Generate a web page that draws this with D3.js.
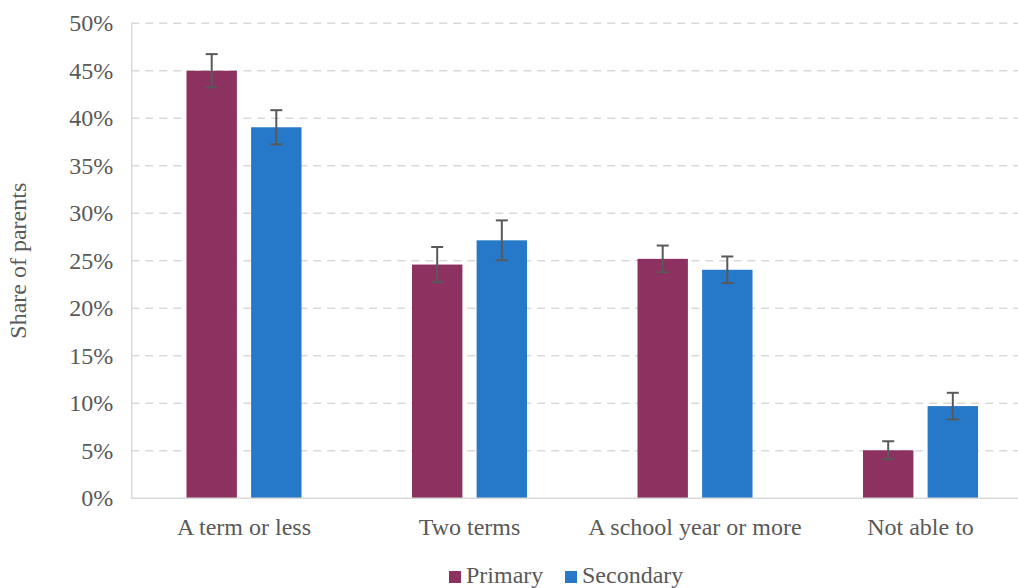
<!DOCTYPE html>
<html>
<head>
<meta charset="utf-8">
<script src="https://cdn.jsdelivr.net/npm/d3@7"></script>
<style>
  html, body { margin: 0; padding: 0; background: #fff; }
  svg { display: block; }
  svg text { font-family: "Liberation Serif", "Times New Roman", Times, "DejaVu Serif", serif; fill: #595959; }
</style>
</head>
<body>
<svg id="chart" width="1018" height="588"></svg>
<script>
const categories = ["A term or less", "Two terms", "A school year or more", "Not able to"];
const seriesNames = ["Primary", "Secondary"];
const primaryValues = [45.0, 24.6, 25.2, 5.05];
const secondaryValues = [39.05, 27.15, 24.05, 9.7];
const primaryErrors = [1.75, 1.85, 1.4, 0.95];
const secondaryErrors = [1.8, 2.1, 1.4, 1.4];
const yTicks = [0, 5, 10, 15, 20, 25, 30, 35, 40, 45, 50];
const colors = ["#8C3160", "#2678C8"];

const svg = d3.select("#chart");
const W = 1018, H = 588;
const mLeft = 131.25, mRight = 1033.25, mTop = 23.25, mBottom = 498.25;

const x = d3.scaleBand().domain(categories).range([mLeft, mRight]).paddingInner(0.49).paddingOuter(0.245);
const x1 = d3.scaleBand().domain(seriesNames).range([0, x.bandwidth()]).paddingInner(0.22);
const y = d3.scaleLinear().domain([0, 50]).range([mBottom, mTop]);

// gridlines
svg.append("g").selectAll("line").data(yTicks.filter(d => d > 0)).join("line")
  .attr("x1", mLeft).attr("x2", W)
  .attr("y1", d => y(d)).attr("y2", d => y(d))
  .attr("stroke", "#d9d9d9").attr("stroke-width", 1.3)
  .attr("stroke-dasharray", "8,6");

// y axis
const yAxis = d3.axisLeft(y).tickValues(yTicks).tickFormat(d => d + "%").tickSize(0).tickPadding(18);
const ya = svg.append("g").attr("transform", `translate(${mLeft},0)`).call(yAxis);
ya.attr("font-family", null).attr("font-size", null);
ya.select(".domain").attr("stroke", "#d9d9d9").attr("stroke-width", 1.5);
ya.selectAll("text").attr("font-size", "24px");

// bars
const data = categories.map((c, i) => ({
  cat: c,
  vals: [
    { s: seriesNames[0], v: primaryValues[i], e: primaryErrors[i], c: colors[0] },
    { s: seriesNames[1], v: secondaryValues[i], e: secondaryErrors[i], c: colors[1] }
  ]
}));

const groups = svg.append("g").selectAll("g").data(data).join("g")
  .attr("transform", d => `translate(${x(d.cat)},0)`);

groups.selectAll("rect").data(d => d.vals).join("rect")
  .attr("x", d => x1(d.s)).attr("width", x1.bandwidth())
  .attr("y", d => y(d.v)).attr("height", d => y(0) - y(d.v))
  .attr("fill", d => d.c);

// x axis baseline
const xAxis = d3.axisBottom(x).tickSize(0).tickPadding(20);
const xa = svg.append("g").attr("transform", `translate(0,${mBottom})`).call(xAxis);
xa.attr("font-family", null).attr("font-size", null);
xa.select(".domain").attr("stroke", "#d9d9d9").attr("stroke-width", 1.5).attr("d", `M${mLeft},0H${W}`);
xa.selectAll("text").attr("font-size", "24px");

// error bars
const eb = groups.selectAll("g.err").data(d => d.vals).join("g").attr("class", "err");
eb.append("line")
  .attr("x1", d => x1(d.s) + x1.bandwidth() / 2).attr("x2", d => x1(d.s) + x1.bandwidth() / 2)
  .attr("y1", d => y(d.v + d.e)).attr("y2", d => y(d.v - d.e))
  .attr("stroke", "#595959").attr("stroke-width", 2);
[1, -1].forEach(sign => {
  eb.append("line")
    .attr("x1", d => x1(d.s) + x1.bandwidth() / 2 - 6).attr("x2", d => x1(d.s) + x1.bandwidth() / 2 + 6)
    .attr("y1", d => y(d.v + sign * d.e)).attr("y2", d => y(d.v + sign * d.e))
    .attr("stroke", "#595959").attr("stroke-width", 2);
});

// y title
svg.append("text")
  .attr("transform", `translate(26,${(mTop + mBottom) / 2}) rotate(-90)`)
  .attr("text-anchor", "middle")
  .attr("font-size", "24px")
  .text("Share of parents");

// legend
const legendX = [449, 565];
const lg = svg.append("g").selectAll("g").data(seriesNames).join("g")
  .attr("transform", (d, i) => `translate(${legendX[i]},571)`);
lg.append("rect").attr("width", 12).attr("height", 12).attr("fill", (d, i) => colors[i]);
lg.append("text").attr("x", 17).attr("y", 12)
  .attr("font-size", "24px").text(d => d);
</script>
</body>
</html>
